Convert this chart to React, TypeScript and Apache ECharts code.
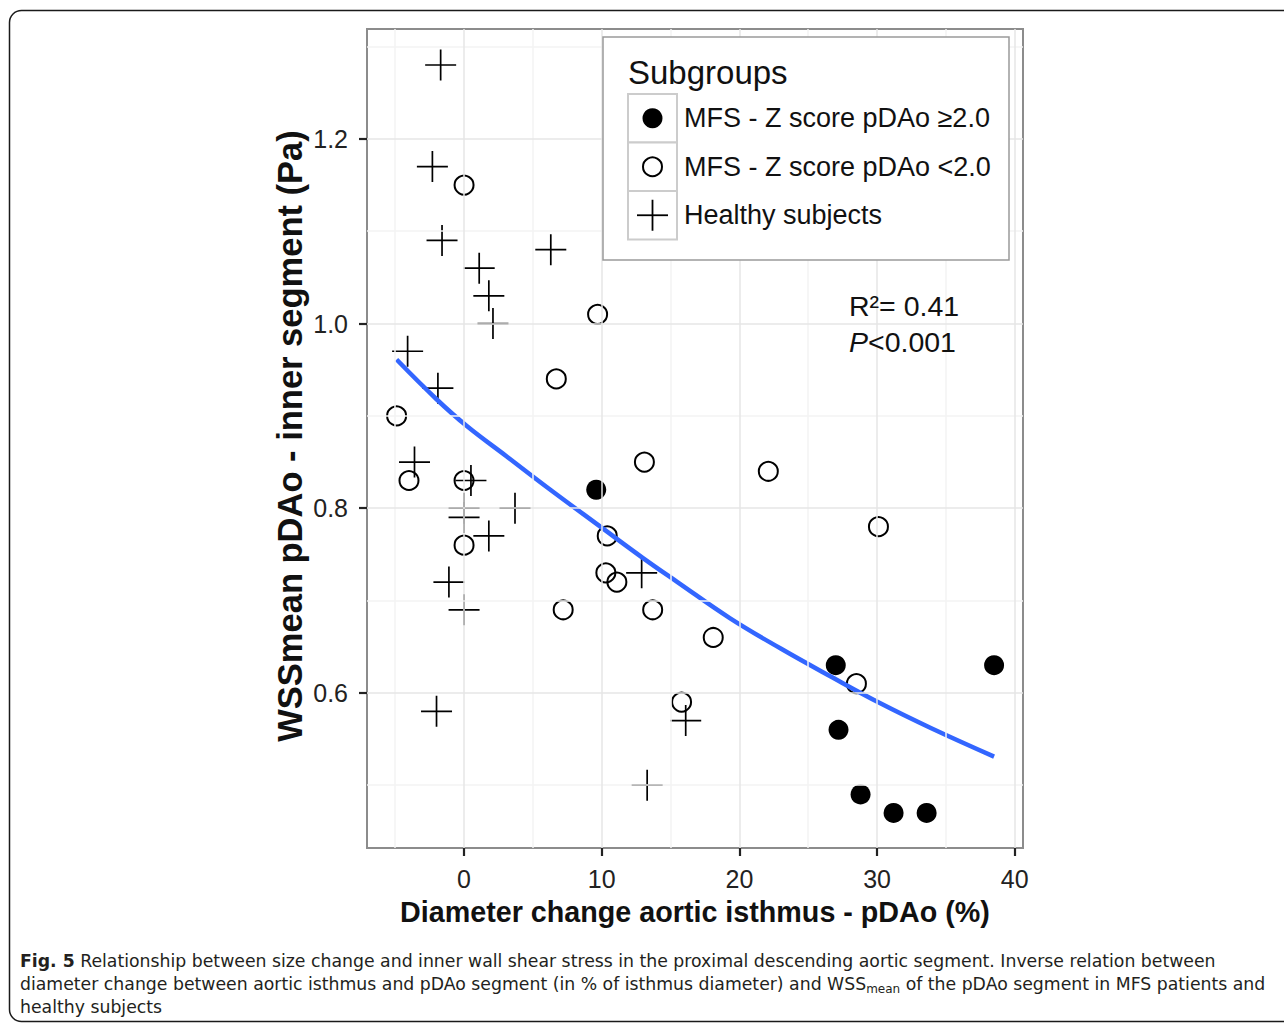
import React, { useEffect, useRef } from 'react';
import * as echarts from 'echarts';

// ---- data ----
const mfsHigh: number[][] = [
  [9.6, 0.82], [27.0, 0.63], [38.5, 0.63], [27.2, 0.56], [28.8, 0.49], [31.2, 0.47], [33.6, 0.47],
];
const mfsLow: number[][] = [
  [0.0, 1.15], [9.7, 1.01], [6.7, 0.94], [-4.9, 0.90], [-4.0, 0.83], [0.0, 0.83], [0.0, 0.76],
  [13.1, 0.85], [22.1, 0.84], [30.1, 0.78], [10.4, 0.77], [10.3, 0.73], [11.1, 0.72], [7.2, 0.69],
  [13.7, 0.69], [18.1, 0.66], [28.5, 0.61], [15.8, 0.59],
];
const healthy: number[][] = [
  [-1.7, 1.28], [-2.3, 1.17], [-1.6, 1.09], [6.3, 1.08], [1.1, 1.06], [1.8, 1.03], [2.1, 1.00],
  [-4.1, 0.97], [-1.9, 0.93], [-3.6, 0.85], [0.5, 0.83], [0.0, 0.80], [0.0, 0.79], [3.7, 0.80],
  [1.8, 0.77], [-1.1, 0.72], [0.0, 0.69], [12.9, 0.73], [-2.0, 0.58], [16.1, 0.57], [13.3, 0.50],
];
const fitCurve: number[][] = [
  [-4.9, 0.961], [-2.0, 0.918], [0.2, 0.889], [3.1, 0.856], [6.0, 0.823], [9.9, 0.780],
  [13.0, 0.746], [15.5, 0.720], [19.3, 0.681], [23.0, 0.648], [26.6, 0.618], [30.2, 0.589],
  [33.9, 0.562], [38.5, 0.531],
];
const xTicks = [0, 10, 20, 30, 40];
const yTicks = [0.6, 0.8, 1.0, 1.2];
const xMinor = [-5, 5, 15, 25, 35];
const yMinor = [0.5, 0.7, 0.9, 1.1, 1.3];
const legendTitle = 'Subgroups';
const legendLabels = ['MFS - Z score pDAo \u22652.0', 'MFS - Z score pDAo <2.0', 'Healthy subjects'];
const xTitle = 'Diameter change aortic isthmus - pDAo (%)';
const yTitle = 'WSSmean pDAo - inner segment (Pa)';
const captionLines = [
  '{b|Fig. 5} Relationship between size change and inner wall shear stress in the proximal descending aortic segment. Inverse relation between',
  'diameter change between aortic isthmus and pDAo segment (in % of isthmus diameter) and WSS{sub|mean} of the pDAo segment in MFS patients and',
  'healthy subjects',
];

const FONT = 'Liberation Sans';
const CAP = 'DejaVu Sans';
const CROSS = 'path://M0,10L20,10M10,0L10,20';

export default function App() {
  const ref = useRef<HTMLDivElement>(null);
  useEffect(() => {
    document.body.style.margin = '0';
    const chart = echarts.init(ref.current!, null, { renderer: 'svg' });
    const gridLines = [
      ...xMinor.map((v) => ({ xAxis: v, lineStyle: { color: '#f3f3f3', width: 1.5, type: 'solid' } })),
      ...yMinor.map((v) => ({ yAxis: v, lineStyle: { color: '#f3f3f3', width: 1.5, type: 'solid' } })),
      ...xTicks.map((v) => ({ xAxis: v, lineStyle: { color: '#e6e6e6', width: 1.5, type: 'solid' } })),
      ...yTicks.map((v) => ({ yAxis: v, lineStyle: { color: '#e6e6e6', width: 1.5, type: 'solid' } })),
    ];
    const legX = 603, legY = 37;
    const keyX = 628, keyW = 49, keyH = 48.5, keyY0 = 94;
    const symX = keyX + keyW / 2;
    const rowY = (i: number) => keyY0 + keyH * i + keyH / 2;
    const capStyle = { fontSize: 17.3, fontFamily: CAP, fill: '#231f20' };
    const graphic: any[] = [
      {
        type: 'rect', z: 0, silent: true,
        shape: { x: 9.5, y: 10.5, width: 1300, height: 1011, r: 12 },
        style: { fill: 'none', stroke: '#1a1a1a', lineWidth: 1.5 },
      },
      {
        type: 'rect', z: 50,
        shape: { x: legX, y: legY, width: 406, height: 223 },
        style: { fill: '#fff', stroke: '#9a9a9a', lineWidth: 1.5 },
      },
      {
        type: 'text', z: 51, x: keyX, y: 72,
        style: { text: legendTitle, fontSize: 33, fontFamily: FONT, fill: '#111', verticalAlign: 'middle', align: 'left' },
      },
      ...[0, 1, 2].map((i) => ({
        type: 'rect', z: 51,
        shape: { x: keyX, y: keyY0 + keyH * i, width: keyW, height: keyH },
        style: { fill: '#fff', stroke: '#cccccc', lineWidth: 2 },
      })),
      { type: 'circle', z: 52, shape: { cx: symX, cy: rowY(0), r: 10 }, style: { fill: '#000' } },
      { type: 'circle', z: 52, shape: { cx: symX, cy: rowY(1), r: 9.5 }, style: { fill: 'none', stroke: '#000', lineWidth: 2 } },
      { type: 'line', z: 52, shape: { x1: symX - 15.5, y1: rowY(2), x2: symX + 15.5, y2: rowY(2) }, style: { stroke: '#000', lineWidth: 1.8 } },
      { type: 'line', z: 52, shape: { x1: symX, y1: rowY(2) - 15.5, x2: symX, y2: rowY(2) + 15.5 }, style: { stroke: '#000', lineWidth: 1.8 } },
      ...legendLabels.map((t, i) => ({
        type: 'text', z: 52, x: 684, y: rowY(i),
        style: { text: t, fontSize: 27, fontFamily: FONT, fill: '#111', verticalAlign: 'middle', align: 'left' },
      })),
      {
        type: 'text', z: 52, x: 849, y: 306,
        style: { text: 'R\u00b2= 0.41', fontSize: 28.5, fontFamily: FONT, fill: '#111', verticalAlign: 'middle', align: 'left' },
      },
      {
        type: 'text', z: 52, x: 849, y: 342,
        style: {
          text: '{i|P}<0.001', fontSize: 28.5, fontFamily: FONT, fill: '#111', verticalAlign: 'middle', align: 'left',
          rich: { i: { fontStyle: 'italic', fontSize: 28.5, fontFamily: FONT, fill: '#111' } },
        },
      },
      {
        type: 'text', z: 10, x: 695, y: 912,
        style: { text: xTitle, fontSize: 28.7, fontWeight: 'bold', fontFamily: FONT, fill: '#111', align: 'center', verticalAlign: 'middle' },
      },
      {
        type: 'text', z: 10, x: 290, y: 436, rotation: Math.PI / 2,
        style: { text: yTitle, fontSize: 34.5, fontWeight: 'bold', fontFamily: FONT, fill: '#111', align: 'center', verticalAlign: 'middle' },
      },
      ...captionLines.map((t, i) => ({
        type: 'text', z: 10, x: 20, y: 961 + 23 * i,
        style: {
          text: t, ...capStyle, lineHeight: 21, align: 'left', verticalAlign: 'middle',
          rich: {
            b: { ...capStyle, fontWeight: 'bold', lineHeight: 21 },
            sub: { fontSize: 12, fontFamily: CAP, fill: '#231f20', lineHeight: 21, verticalAlign: 'bottom' },
          },
        },
      })),
    ];

    chart.setOption({
      animation: false,
      backgroundColor: '#fff',
      grid: { left: 367, top: 29, width: 656, height: 819, show: true, borderColor: '#8c8c8c', borderWidth: 2, backgroundColor: 'transparent' },
      xAxis: {
        type: 'value', min: -7.05, max: 40.6,
        axisLine: { show: false, onZero: false },
        splitLine: { show: false },
        axisTick: { show: true, length: 8, customValues: xTicks, lineStyle: { color: '#222', width: 2.2 } },
        axisLabel: { customValues: xTicks, fontSize: 25, fontFamily: FONT, color: '#222', margin: 18 },
      },
      yAxis: {
        type: 'value', min: 0.432, max: 1.319,
        axisLine: { show: false, onZero: false },
        splitLine: { show: false },
        axisTick: { show: true, length: 8, customValues: yTicks, lineStyle: { color: '#222', width: 2.2 } },
        axisLabel: { customValues: yTicks, fontSize: 25, fontFamily: FONT, color: '#222', margin: 19, formatter: (v: number) => v.toFixed(1) },
      },
      graphic,
      series: [
        {
          type: 'line', data: [], z: 1, silent: true,
          markLine: { silent: true, symbol: ['none', 'none'], label: { show: false }, animation: false, data: gridLines },
        },
        {
          name: legendLabels[2], type: 'scatter', data: healthy, z: 3, silent: true,
          symbol: CROSS, symbolSize: 31,
          itemStyle: { color: 'rgba(0,0,0,0)', borderColor: '#000', borderWidth: 1.7, opacity: 1 },
        },
        {
          name: legendLabels[1], type: 'scatter', data: mfsLow, z: 3, silent: true,
          symbol: 'circle', symbolSize: 19,
          itemStyle: { color: 'rgba(0,0,0,0)', borderColor: '#000', borderWidth: 2, opacity: 1 },
        },
        {
          name: legendLabels[0], type: 'scatter', data: mfsHigh, z: 3, silent: true,
          symbol: 'circle', symbolSize: 20,
          itemStyle: { color: '#000', opacity: 1 },
        },
        {
          type: 'line', data: fitCurve, z: 4, silent: true, smooth: 0.4, showSymbol: false,
          lineStyle: { color: '#3366ff', width: 4.5 },
        },
      ],
    });
    return () => chart.dispose();
  }, []);
  return <div ref={ref} style={{ position: 'absolute', left: 0, top: 0, width: 1284, height: 1025, background: '#fff' }} />;
}
